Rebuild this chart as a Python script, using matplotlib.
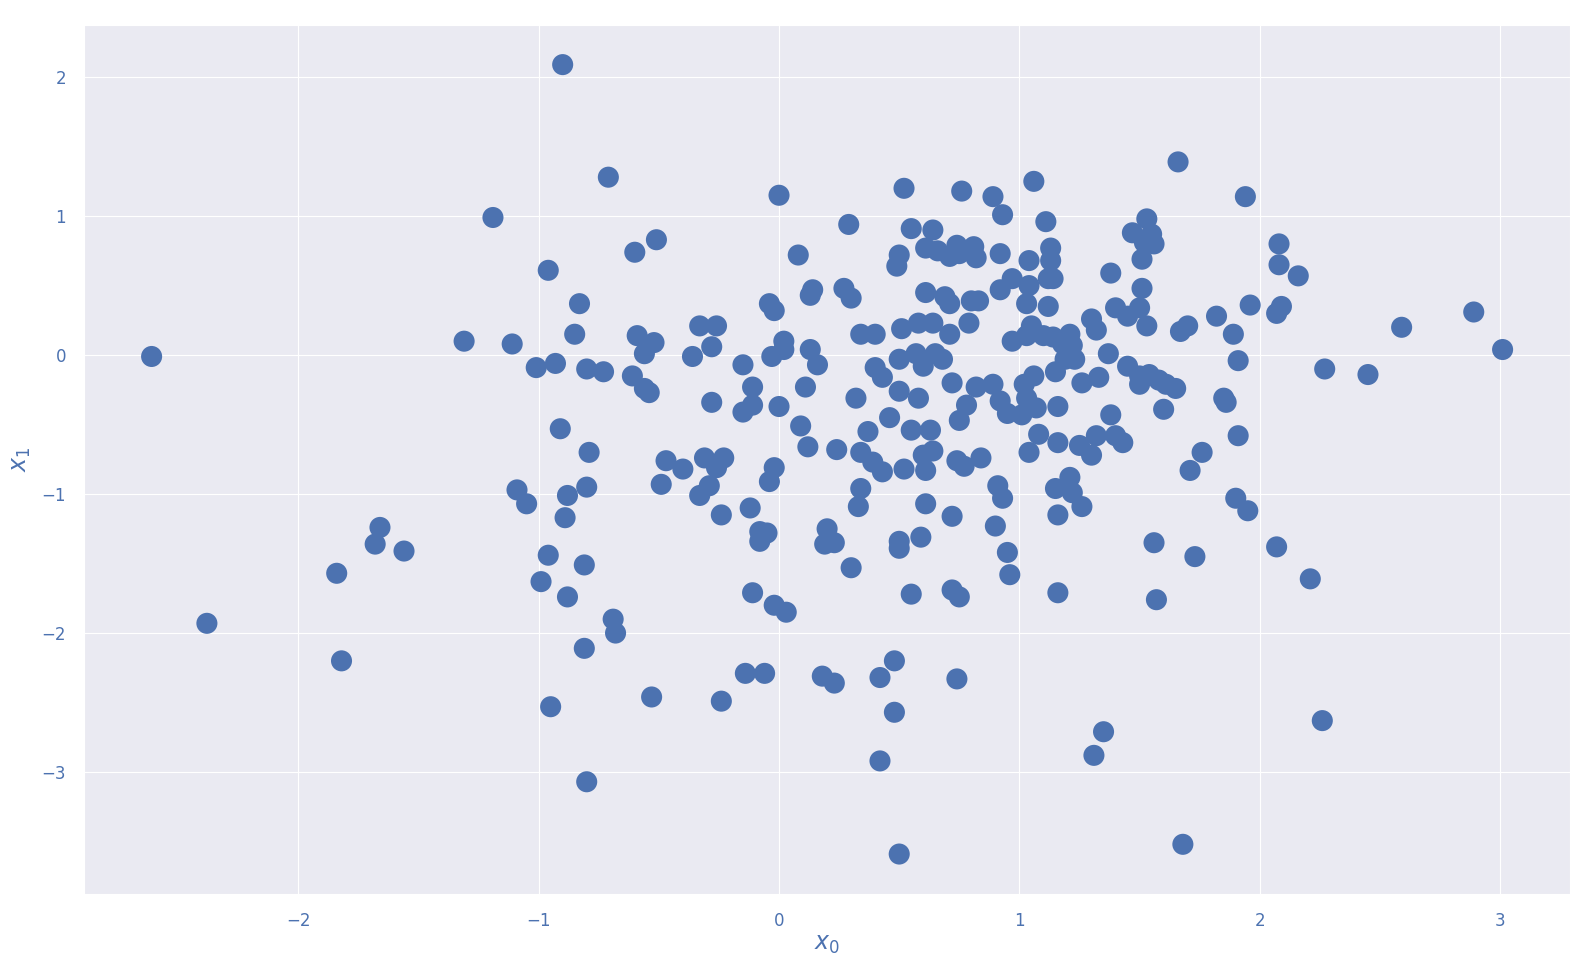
import numpy as np
import matplotlib
matplotlib.use("Agg")
import matplotlib.pyplot as plt
import seaborn as sns

# points (x0, x1)
x0 = [-2.61, -2.38, -1.84, -1.82, -1.66, -1.68, -1.56, -1.31, -1.19, -1.11,
      -1.09, -1.05, -1.01, -0.93, -0.96, -0.90, -0.83, -0.85, -0.80, -0.73,
      -0.91, -0.79, -0.88, -0.80, -0.89, -0.96, -0.99, -0.88, -0.81, -0.69,
      -0.68, -0.81, -0.95, -0.80, -0.71, -0.60, -0.51, -0.59, -0.52, -0.56,
      -0.61, -0.56, -0.54, -0.47, -0.49, -0.40, -0.36, -0.33, -0.26, -0.28,
      -0.28, -0.31, -0.29, -0.33, -0.23, -0.26, -0.24, -0.53, -0.24, -0.14,
      -0.06, -0.11, -0.02, 0.03, -0.08, -0.05, -0.08, -0.12, -0.15, -0.11,
      -0.11, -0.15, -0.04, -0.02, -0.03, 0.00, -0.04, -0.02, 0.02, 0.02,
      0.00, 0.08, 0.13, 0.14, 0.13, 0.16, 0.11, 0.09, 0.12, 0.24,
      0.20, 0.19, 0.23, 0.18, 0.23, 0.30, 0.29, 0.27, 0.30, 0.34,
      0.40, 0.32, 0.37, 0.34, 0.39, 0.34, 0.33, 0.43, 0.46, 0.40,
      0.43, 0.50, 0.51, 0.50, 0.52, 0.50, 0.50, 0.59, 0.55, 0.42,
      0.48, 0.48, 0.42, 0.50, 0.52, 0.49, 0.50, 0.55, 0.61, 0.64,
      0.66, 0.61, 0.58, 0.64, 0.57, 0.60, 0.58, 0.65, 0.68, 0.55,
      0.63, 0.60, 0.64, 0.61, 0.61, 0.69, 0.71, 0.71, 0.72, 0.71,
      0.76, 0.74, 0.75, 0.81, 0.82, 0.80, 0.83, 0.79, 0.78, 0.75,
      0.82, 0.74, 0.77, 0.84, 0.72, 0.72, 0.75, 0.74, 0.89, 0.93,
      0.92, 0.92, 0.89, 0.92, 0.95, 0.91, 0.93, 0.90, 0.95, 0.96,
      0.97, 0.97, 1.01, 1.03, 1.04, 1.04, 1.06, 1.11, 1.02, 1.03,
      1.04, 1.07, 1.06, 1.03, 1.05, 1.10, 1.08, 1.12, 1.13, 1.13,
      1.12, 1.14, 1.16, 1.16, 1.15, 1.16, 1.16, 1.15, 1.14, 1.18,
      1.21, 1.22, 1.19, 1.23, 1.21, 1.22, 1.26, 1.25, 1.26, 1.30,
      1.32, 1.32, 1.30, 1.33, 1.31, 1.35, 1.38, 1.37, 1.38, 1.40,
      1.43, 1.40, 1.45, 1.45, 1.47, 1.50, 1.51, 1.51, 1.52, 1.53,
      1.55, 1.56, 1.53, 1.50, 1.50, 1.54, 1.58, 1.61, 1.65, 1.60,
      1.56, 1.57, 1.66, 1.67, 1.70, 1.71, 1.68, 1.76, 1.73, 1.82,
      1.85, 1.86, 1.89, 1.91, 1.91, 1.90, 1.95, 1.94, 1.96, 2.08,
      2.08, 2.07, 2.09, 2.07, 2.16, 2.21, 2.26, 2.27, 2.45, 2.59,
      2.89, 3.01]
x1 = [-0.01, -1.93, -1.57, -2.20, -1.24, -1.36, -1.41, 0.10, 0.99, 0.08,
      -0.97, -1.07, -0.09, -0.06, 0.61, 2.09, 0.37, 0.15, -0.10, -0.12,
      -0.53, -0.70, -1.01, -0.95, -1.17, -1.44, -1.63, -1.74, -1.51, -1.90,
      -2.00, -2.11, -2.53, -3.07, 1.28, 0.74, 0.83, 0.14, 0.09, 0.01,
      -0.15, -0.24, -0.27, -0.76, -0.93, -0.82, -0.01, 0.21, 0.21, 0.06,
      -0.34, -0.74, -0.94, -1.01, -0.74, -0.81, -1.15, -2.46, -2.49, -2.29,
      -2.29, -1.71, -1.80, -1.85, -1.27, -1.28, -1.34, -1.10, -0.41, -0.36,
      -0.23, -0.07, -0.91, -0.81, -0.01, -0.37, 0.37, 0.32, 0.10, 0.04,
      1.15, 0.72, 0.43, 0.47, 0.04, -0.07, -0.23, -0.51, -0.66, -0.68,
      -1.25, -1.36, -1.35, -2.31, -2.36, -1.53, 0.94, 0.48, 0.41, 0.15,
      0.15, -0.31, -0.55, -0.70, -0.77, -0.96, -1.09, -0.84, -0.45, -0.09,
      -0.16, -0.03, 0.19, -0.26, -0.82, -1.34, -1.39, -1.31, -1.72, -2.32,
      -2.20, -2.57, -2.92, -3.59, 1.20, 0.64, 0.72, 0.91, 0.77, 0.90,
      0.75, 0.45, 0.23, 0.23, 0.01, -0.08, -0.31, 0.01, -0.03, -0.54,
      -0.54, -0.72, -0.69, -0.83, -1.07, 0.42, 0.37, 0.15, -0.20, 0.71,
      1.18, 0.79, 0.73, 0.78, 0.70, 0.39, 0.39, 0.23, -0.36, -0.47,
      -0.23, -0.76, -0.80, -0.74, -1.16, -1.69, -1.74, -2.33, 1.14, 1.01,
      0.73, 0.47, -0.21, -0.33, -0.42, -0.94, -1.03, -1.23, -1.42, -1.58,
      0.55, 0.10, -0.43, 0.37, 0.68, 0.50, 1.25, 0.96, -0.21, -0.31,
      -0.70, -0.38, -0.15, 0.14, 0.21, 0.14, -0.57, 0.35, 0.77, 0.68,
      0.55, 0.55, -1.71, -1.15, -0.96, -0.63, -0.37, -0.12, 0.13, 0.08,
      0.15, 0.07, -0.03, -0.03, -0.88, -0.99, -1.09, -0.65, -0.20, 0.26,
      0.18, -0.58, -0.72, -0.16, -2.88, -2.71, 0.59, 0.01, -0.43, -0.58,
      -0.63, 0.34, -0.08, 0.28, 0.88, 0.34, 0.48, 0.69, 0.81, 0.98,
      0.87, 0.80, 0.21, -0.15, -0.21, -0.14, -0.18, -0.21, -0.24, -0.39,
      -1.35, -1.76, 1.39, 0.17, 0.21, -0.83, -3.52, -0.70, -1.45, 0.28,
      -0.31, -0.34, 0.15, -0.04, -0.58, -1.03, -1.12, 1.14, 0.36, 0.80,
      0.65, 0.30, 0.35, -1.38, 0.57, -1.61, -2.63, -0.10, -0.14, 0.20,
      0.31, 0.04]

sns.set_style("darkgrid")
label_color = "#4C72B0"

fig = plt.figure(figsize=(15.86, 9.67), dpi=100)
ax = fig.add_axes([0.053, 0.076, 0.937, 0.898])
ax.scatter(x0, x1, s=230, color="#4C72B0", edgecolors="none")

ax.set_xlabel("$x_0$", fontsize=17, color=label_color, labelpad=2)
ax.set_ylabel("$x_1$", fontsize=17, color=label_color, labelpad=6)
ax.tick_params(axis="both", labelsize=12, colors=label_color, length=0, pad=13)

fig.savefig("out.png", dpi=100)
